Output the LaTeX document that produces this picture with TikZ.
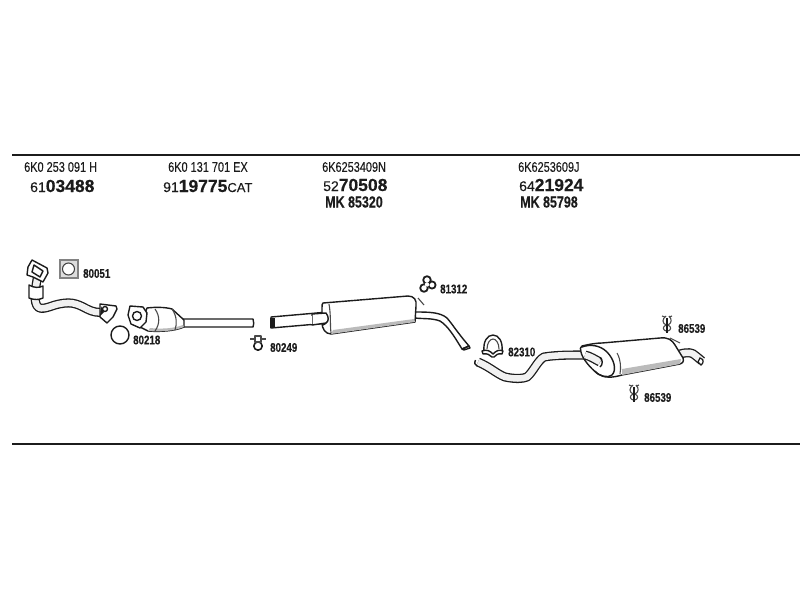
\documentclass[tikz,border=0pt]{standalone}
\usepackage{fontspec}
\setmainfont[FakeBold=0.25]{Liberation Sans}
\newfontfamily\narrowfont[FakeStretch=0.78,FakeBold=0.25]{Liberation Sans}
\usetikzlibrary{calc}
\definecolor{ink}{HTML}{1C1C1C}
\tikzset{
	partline/.style={line width=2pt,ink},
	outline/.style={draw=ink,line width=1.4pt,line join=round},
	body/.style={outline,fill=white},
	pipe/.style={draw=ink,line width=1.3pt,double=ink!6,double distance=6.5pt,line join=round},
	thin part/.style={draw=ink!80,line width=1.1pt,line join=round},
	codetext/.style={inner sep=0pt,anchor=west,ink,font=\narrowfont\fontsize{14}{14}\selectfont},
	ordertext/.style={inner sep=0pt,anchor=west,ink,font=\fontsize{14}{14}\selectfont},
	mktext/.style={inner sep=0pt,anchor=west,ink,font=\narrowfont\bfseries\fontsize{16}{16}\selectfont},
	smalltext/.style={inner sep=0pt,anchor=west,ink,font=\narrowfont\bfseries\fontsize{12.5}{12.5}\selectfont},
}
\newcommand{\boldnum}[1]{{\bfseries\fontsize{17.5}{17.5}\selectfont #1}}
\newcommand{\hangerpart}[1]{
	\begin{scope}[shift={#1}]
		\draw[thin part] (-1,-8) .. controls (-5,-5) and (-5,-1) .. (-1,1) .. controls (-5,3) and (-4,6) .. (-1,7);
		\draw[thin part] (2,-8) .. controls (5,-5) and (5,-1) .. (1,1) .. controls (5,3) and (4,6) .. (1,7);
		\draw[outline] (0,-6) -- (0,9);
		\draw[thin part] (-5,-8) -- (-2,-7) (5,-8) -- (2,-7);
	\end{scope}
}
\begin{document}
\begin{tikzpicture}[x=1pt,y=-1pt]
	\useasboundingbox (0,0) rectangle (800,600);
	\coordinate (topl) at (12,155);
	\coordinate (topr) at (800,155);
	\coordinate (botl) at (12,444);
	\coordinate (botr) at (800,444);
	\draw[partline] (topl) -- (topr);
	\draw[partline] (botl) -- (botr);

	% header columns
	\node[codetext] (code1) at (24,167) {6K0 253 091 H};
	\node[ordertext] (order1) at (30,186) {61\boldnum{03488}};
	\node[codetext] (code2) at (168,167) {6K0 131 701 EX};
	\node[ordertext] (order2) at (163,186) {91\boldnum{19775}\fontsize{13}{13}\selectfont CAT};
	\node[codetext] (code3) at (322,167) {6K6253409N};
	\node[ordertext] (order3) at (323,185) {52\boldnum{70508}};
	\node[mktext] (mk3) at (325,202) {MK 85320};
	\node[codetext] (code4) at (518,167) {6K6253609J};
	\node[ordertext] (order4) at (519,185) {64\boldnum{21924}};
	\node[mktext] (mk4) at (520,202) {MK 85798};

	% front pipe
	\draw[pipe] (38,274) .. controls (36,285) and (35,292) .. (35,298) .. controls (36,312) and (43,309) .. (55,305) .. controls (70,301) and (76,303) .. (87,309) .. controls (93,312) and (98,313) .. (104,312);
	\draw[body] (32,260) -- (47,268) -- (48,273) -- (43,282) -- (33,277) -- (27,275) -- (28,267) -- cycle;
	\draw[outline] (34,265) -- (43,271) -- (40,277) -- (32,272) -- cycle;
	\draw[body] (29,285) .. controls (34,288) and (39,288) .. (43,286) -- (43,298) .. controls (39,300) and (34,300) .. (29,298) -- cycle;
	\draw[body] (100,304) -- (116,306) -- (117,309) -- (113,317) -- (107,323) -- (100,317) -- cycle;
	\draw[outline] (105,309) circle (2.5);
	\fill[ink] (101,306) -- (104,312) -- (100,316) -- cycle;

	% gasket 80051
	\draw[draw=ink!55,fill=ink!15,line width=1.4pt] (60,260) rectangle (78,278);
	\draw[draw=ink!85,fill=white,line width=1pt] (68.5,269) circle (6);
	\node[smalltext] (lab80051) at (83,273.5) {80051};

	% ring 80218
	\draw[outline] (120,335) circle (9);
	\node[smalltext] (lab80218) at (133,340) {80218};

	% catalyst
	\draw[body] (182,319) -- (253,319) .. controls (254,322) and (254,325) .. (253,327) -- (182,327) -- cycle;
	\draw[body] (147,308) .. controls (155,307) and (165,307) .. (172,309) -- (184,320) -- (184,327) .. controls (175,331) and (160,332) .. (148,331) -- (140,327) -- cycle;
	\fill[ink!30] (150,328) .. controls (160,329) and (172,329) .. (183,325) -- (184,327) .. controls (175,331) and (160,332) .. (148,331) -- cycle;
	\draw[thin part] (155,309) .. controls (160,316) and (160,324) .. (155,331);
	\draw[thin part] (172,309) .. controls (177,316) and (177,324) .. (175,330);
	\draw[body] (130,306) -- (143,307) -- (147,313) -- (146,322) -- (140,328) -- (131,324) -- (128,315) -- cycle;
	\draw[outline] (137,316) circle (4.5);

	% clamp 80249
	\draw[outline,line width=1.6pt] (258,346) circle (4.2);
	\draw[thin part] (250,339) -- (255,339) (261,339) -- (266,339);
	\draw[thin part] (255,336) -- (255,342) -- (261,342) -- (261,336) -- cycle;
	\node[smalltext] (lab80249) at (270,347.5) {80249};

	% front silencer
	\draw[body] (271,317) -- (328,312) -- (329,323) -- (271,328) -- cycle;
	\fill[ink] (270,318) rectangle (275,328);
	\draw[body] (415,312) .. controls (428,312) and (440,312) .. (447,318) .. controls (453,325) and (457,332) .. (469,346) -- (462,349) .. controls (454,336) and (448,326) .. (440,321) .. controls (432,318) and (424,319) .. (415,318) -- cycle;
	\draw[outline] (462,349) -- (469,346) -- (470,348) -- (464,350) -- cycle;
	\draw[thin part] (418,298) -- (424,305);
	\draw[body] (323,303) -- (408,296) .. controls (414,296) and (417,300) .. (416,306) -- (415,322) -- (331,334) .. controls (325,334) and (322,328) .. (322,323) -- (322,308) .. controls (322,305) and (322,304) .. (323,303) -- cycle;
	\fill[ink!30] (333,330) -- (414,319) -- (415,322) -- (331,334) -- cycle;
	\draw[thin part] (329,304) .. controls (331,315) and (330,325) .. (331,333);
	\draw[outline] (322,313) .. controls (329,315) and (330,322) .. (323,325);
	\draw[body] (312,314) -- (326,313) .. controls (329,317) and (329,321) .. (326,323) -- (312,325) -- cycle;
	\draw[draw=white,line width=1.6pt] (311.5,315.5) -- (311.5,323.5);

	% hanger 81312
	\draw[outline,line width=1.8pt] (427,280) circle (3.8);
	\draw[outline,line width=1.8pt] (424,288) circle (3.8);
	\draw[outline,line width=1.8pt] (432,285) circle (3.6);
	\fill[white] (427,284.5) circle (2.2);
	\node[smalltext] (lab81312) at (440,289) {81312};

	% rear pipe
	\draw[pipe] (478,362) .. controls (490,367) and (497,374) .. (505,377) .. controls (515,379) and (522,379) .. (527,377) .. controls (533,372) and (538,360) .. (544,357) .. controls (556,355) and (570,355) .. (585,355) .. controls (590,356) and (596,360) .. (600,362);
	\draw[outline] (475.5,360) .. controls (474,363) and (475,365) .. (477,366);

	% clamp 82310
	\draw[outline] (484,351) .. controls (483,342) and (487,335) .. (493,335) .. controls (499,335) and (503,342) .. (502,351);
	\draw[thin part] (487,349) .. controls (487,343) and (490,339) .. (493,339) .. controls (496,339) and (499,343) .. (499,349);
	\draw[body] (482,351) .. controls (487,349) and (490,351) .. (493,354) .. controls (496,351) and (499,349) .. (503,351) -- (502,354) .. controls (498,353) and (496,355) .. (494,357) -- (492,357) .. controls (490,355) and (487,353) .. (483,354) -- cycle;
	\node[smalltext] (lab82310) at (508,352) {82310};

	% rear silencer
	\draw[pipe] (680,354) .. controls (688,352) and (692,352) .. (696,356) -- (702,361);
	\draw[thin part] (670,338) -- (680,343);
	\draw[body] (582,346) .. controls (590,344) and (597,343) .. (602,343) -- (660,338) .. controls (668,337) and (672,340) .. (675,345) -- (683,358) .. controls (684,361) and (683,363) .. (680,364) -- (622,375) .. controls (612,378) and (604,378) .. (598,374) .. controls (590,368) and (582,358) .. (581,352) .. controls (580,349) and (580,347) .. (582,346) -- cycle;
	\fill[ink!30] (622,369) -- (681,359) -- (680,364) -- (622,375) -- cycle;
	\draw[outline] (582,347) .. controls (590,344) and (600,345) .. (607,352) .. controls (614,359) and (617,370) .. (612,375) .. controls (608,378) and (600,377) .. (595,371);
	\draw[thin part] (617,353) .. controls (621,360) and (621,368) .. (620,374);
	\draw[pipe] (585,355) .. controls (590,356) and (596,360) .. (600,362);
	\draw[outline] (600,358) .. controls (603,359) and (603,365) .. (600,367);
	\draw[draw=ink,fill=white,line width=1.2pt] (700,358) .. controls (704,359) and (704,363) .. (701,365) -- (698,362) -- cycle;

	% hangers 86539
	\hangerpart{(667,324)}
	\node[smalltext] (lab86539a) at (678,328.5) {86539};
	\hangerpart{(634,393)}
	\node[smalltext] (lab86539b) at (644,397.5) {86539};
\end{tikzpicture}
\end{document}
